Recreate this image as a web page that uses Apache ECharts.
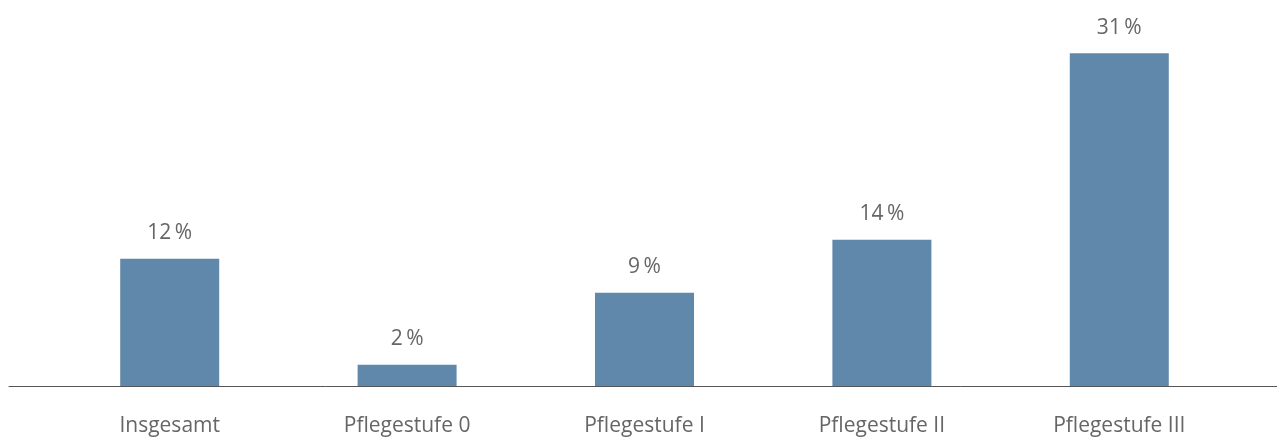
<!DOCTYPE html>
<html><head><meta charset="utf-8">
<script src="https://cdn.jsdelivr.net/npm/echarts@6/dist/echarts.min.js"></script>
<style>html,body{margin:0;padding:0;background:#fff}#c{width:1277px;height:437px}</style>
</head><body><div id="c"></div>
<script>
const categories = ['Insgesamt', 'Pflegestufe 0', 'Pflegestufe I', 'Pflegestufe II', 'Pflegestufe III'];
const values = [12.0, 2.0, 8.8, 13.8, 31.4];

const chart = echarts.init(document.getElementById('c'), null, {renderer: 'canvas'});
const FONT = '"Open Sans", sans-serif';
chart.setOption({
  animation: false,
  backgroundColor: '#fff',
  grid: [
    {left: 51, right: 39, top: 15, bottom: 51},
    {left: 9, right: 0, top: 15, bottom: 51}
  ],
  xAxis: [
    {
      type: 'category', gridIndex: 0, data: categories,
      axisLine: {show: false}, axisTick: {show: false},
      axisLabel: {color: '#666', fontSize: 21, fontFamily: FONT, margin: 30}
    },
    {
      type: 'category', gridIndex: 1, data: categories, z: 5,
      axisLine: {show: true, lineStyle: {color: '#555', width: 1}},
      axisTick: {show: false}, axisLabel: {show: false}
    }
  ],
  yAxis: [
    {type: 'value', gridIndex: 0, min: 0, max: 35, show: false, splitLine: {show: false}},
    {type: 'value', gridIndex: 1, min: 0, max: 35, show: false, splitLine: {show: false}}
  ],
  series: [{
    type: 'bar', xAxisIndex: 0, yAxisIndex: 0, data: values, barWidth: 99,
    itemStyle: {color: '#6088ab'},
    label: {
      show: true, position: 'top', distance: 15, color: '#666', fontSize: 21, fontFamily: FONT,
      formatter: p => Math.round(p.value) + '\u2009%'
    }
  }]
});
</script></body></html>
